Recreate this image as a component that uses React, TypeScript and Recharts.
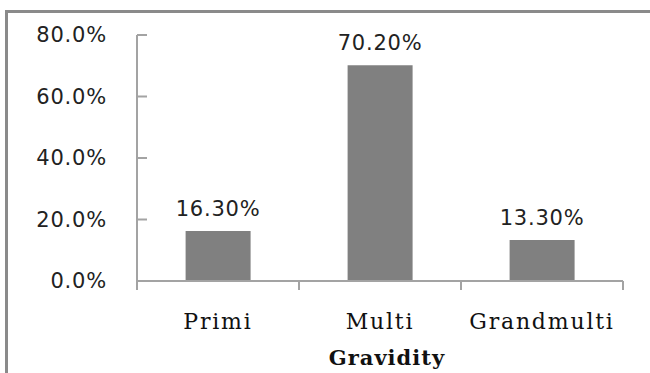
import { BarChart, Bar, XAxis, YAxis, LabelList } from "recharts";

const categories = ["Primi", "Multi", "Grandmulti"];
const values = [16.3, 70.2, 13.3];
const valueLabels = ["16.30%", "70.20%", "13.30%"];
const yTicks = [0, 20, 40, 60, 80];

const data = categories.map((name, i) => ({ name, value: values[i], label: valueLabels[i] }));

const W = 650;
const H = 373;
const margin = { top: 35, right: 27, left: 0, bottom: 0 };
const yAxisWidth = 137;
const band = (W - margin.right - yAxisWidth) / categories.length;

const sans = "'DejaVu Sans', Verdana, sans-serif";
const serif = "'DejaVu Serif', 'Palatino Linotype', serif";
const axisColor = "#a3a3a3";

// tick marks point into the plot, labels sit left of the axis
const YTick = (props: any) => {
	const { x, y, payload } = props;
	return (
		<g>
			<line x1={x} x2={x + 10} y1={y} y2={y} stroke={axisColor} strokeWidth={2} />
			<text x={x - 30} y={y + 7} textAnchor="end" fontFamily={sans} fontSize={21} letterSpacing={0.8} fill="#222">
				{payload.value.toFixed(1)}%
			</text>
		</g>
	);
};

// tick marks at category boundaries
const XTick = (props: any) => {
	const { x, y, payload, index } = props;
	const left = x - band / 2;
	return (
		<g>
			<line x1={left} x2={left} y1={y} y2={y + 9} stroke={axisColor} strokeWidth={2} />
			{index === categories.length - 1 && (
				<line x1={x + band / 2} x2={x + band / 2} y1={y} y2={y + 9} stroke={axisColor} strokeWidth={2} />
			)}
			<text x={x} y={y + 48} textAnchor="middle" fontFamily={serif} fontSize={22} letterSpacing={1.8} fill="#111">
				{payload.value}
			</text>
		</g>
	);
};

export default function App() {
	return (
		<div style={{ position: "absolute", left: 0, top: 0, width: W, height: H, background: "#fff", overflow: "hidden" }}>
			<div style={{ position: "absolute", left: 5, top: 10, right: 0, bottom: 0, borderTop: "3px solid #8a8a8a", borderLeft: "3px solid #8a8a8a" }} />
			<div style={{ position: "absolute", left: 0, top: 0 }}>
				<BarChart width={W} height={H} data={data} margin={margin} barCategoryGap="30%">
					<YAxis
						type="number"
						domain={[0, 80]}
						ticks={yTicks}
						width={yAxisWidth}
						tickSize={0}
						tickMargin={0}
						tickLine={false}
						axisLine={{ stroke: axisColor, strokeWidth: 2 }}
						tick={<YTick />}
						interval={0}
					/>
					<XAxis
						dataKey="name"
						height={92}
						tickSize={0}
						tickMargin={0}
						tickLine={false}
						axisLine={{ stroke: axisColor, strokeWidth: 2 }}
						tick={<XTick />}
						interval={0}
						label={{ value: "Gravidity", position: "insideBottom", offset: 8, dx: 7, fontFamily: serif, fontSize: 21, fontWeight: "bold", letterSpacing: 1, fill: "#111" }}
					/>
					<Bar dataKey="value" fill="#808080" isAnimationActive={false}>
						<LabelList dataKey="label" position="top" offset={15} fontFamily={sans} fontSize={21} letterSpacing={0.8} fill="#222" />
					</Bar>
				</BarChart>
			</div>
		</div>
	);
}
